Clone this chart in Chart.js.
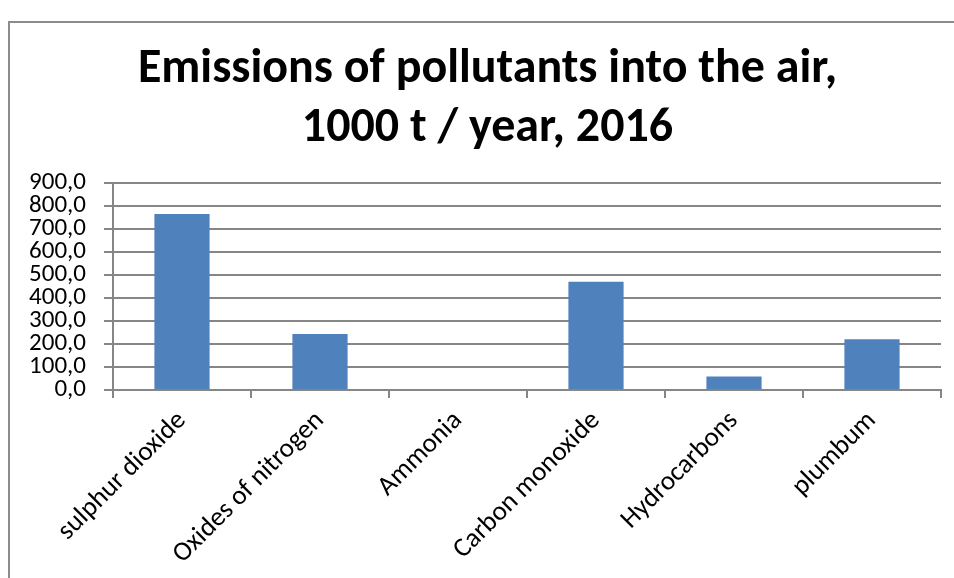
<!DOCTYPE html>
<html>
<head>
<meta charset="utf-8">
<script src="https://cdn.jsdelivr.net/npm/chart.js@4/dist/chart.umd.min.js"></script>
<style>
  html, body { margin: 0; padding: 0; background: #fff; }
  #wrap { width: 954px; height: 578px; position: relative; }
</style>
</head>
<body>
<div id="wrap"><canvas id="chart"></canvas></div>
<script>
// Chart data
const titleLines = ["Emissions of pollutants into the air,", "1000 t / year, 2016"]
const categories = ["sulphur dioxide", "Oxides of nitrogen", "Ammonia", "Carbon monoxide", "Hydrocarbons", "plumbum"]
const emissions = [766, 244, 0, 471, 59, 221]
const yMin = 0
const yMax = 900
const yStep = 100

const fontFamily = 'Carlito, "Liberation Sans Narrow", "Open Sans", sans-serif'
const gridColor = "#868686"

// Outer frame of the chart object (only the top and left edges are in view)
// and a small shift of the title so it is centred on the whole frame
const framePlugin = {
  id: "frame",
  afterLayout(chart) {
    if (chart.titleBlock) {
      chart.titleBlock.left += 14
    }
  },
  beforeDraw(chart) {
    const ctx = chart.ctx
    ctx.save()
    ctx.strokeStyle = "#8c8c8c"
    ctx.lineWidth = 2
    ctx.beginPath()
    ctx.moveTo(9, 578)
    ctx.lineTo(9, 22)
    ctx.lineTo(954, 22)
    ctx.stroke()
    ctx.restore()
  },
}

new Chart(document.getElementById("chart"), {
  type: "bar",
  data: {
    labels: categories,
    datasets: [
      {
        data: emissions,
        backgroundColor: "#4F81BD",
        borderWidth: 0,
        barPercentage: 0.4,
        categoryPercentage: 1.0,
      },
    ],
  },
  options: {
    responsive: true,
    maintainAspectRatio: false,
    animation: false,
    layout: {
      padding: { left: 20, right: 13, top: 0, bottom: 0 },
    },
    plugins: {
      legend: { display: false },
      tooltip: { enabled: false },
      title: {
        display: true,
        text: titleLines,
        color: "#000",
        font: { family: fontFamily, size: 48, weight: "bold", lineHeight: 1.23 },
        padding: { top: 40, bottom: 25 },
      },
    },
    scales: {
      x: {
        offset: true,
        grid: {
          display: true,
          offset: true,
          drawOnChartArea: false,
          drawTicks: true,
          tickLength: 8,
          color: gridColor,
          lineWidth: 2,
        },
        border: { display: true, color: gridColor, width: 2 },
        ticks: {
          color: "#000",
          font: { family: fontFamily, size: 27 },
          maxRotation: 45,
          minRotation: 45,
          autoSkip: false,
          padding: 7,
        },
        afterFit(scale) {
          scale.height = 578 - 390
        },
      },
      y: {
        min: yMin,
        max: yMax,
        grid: {
          color: gridColor,
          lineWidth: 2,
          drawTicks: true,
          tickLength: 9,
        },
        border: { display: true, color: gridColor, width: 2 },
        ticks: {
          stepSize: yStep,
          autoSkip: false,
          color: "#000",
          font: { family: fontFamily, size: 25 },
          padding: 18,
          callback: (v) => v.toFixed(1).replace(".", ","),
        },
        afterFit(scale) {
          scale.width = 93
        },
      },
    },
  },
  plugins: [framePlugin],
})
</script>
</body>
</html>
